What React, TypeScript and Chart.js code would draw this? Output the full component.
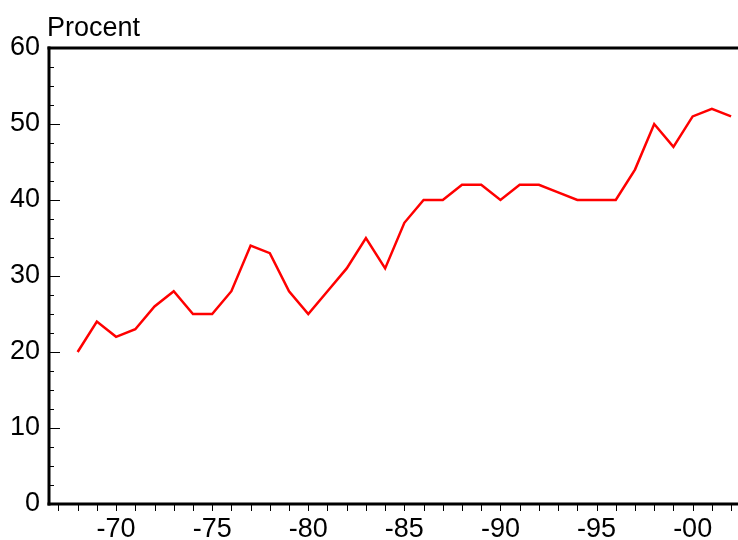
import React, { useEffect, useRef } from 'react';
import { Chart, registerables } from 'chart.js';

Chart.register(...registerables);

const years = [
  1968, 1969, 1970, 1971, 1972, 1973, 1974, 1975, 1976, 1977, 1978, 1979,
  1980, 1981, 1982, 1983, 1984, 1985, 1986, 1987, 1988, 1989, 1990, 1991,
  1992, 1993, 1994, 1995, 1996, 1997, 1998, 1999, 2000, 2001, 2002,
];
const values = [
  20, 24, 22, 23, 26, 28, 25, 25, 28, 34, 33, 28,
  25, 28, 31, 35, 31, 37, 40, 40, 42, 42, 40, 42,
  42, 41, 40, 40, 40, 44, 50, 47, 51, 52, 51,
];
const xTickYears = [1970, 1975, 1980, 1985, 1990, 1995, 2000];
const yTickValues = [0, 10, 20, 30, 40, 50, 60];
const yMinorStep = 2.5;
const unitLabel = 'Procent';

const FONT = '"Liberation Sans", Arial, Helvetica, sans-serif';

const yearLabel = (v: number) => '-' + String(v % 100).padStart(2, '0');

const axesPlugin = {
  id: 'axesPlugin',
  afterDatasetsDraw(chart: any) {
    const { ctx, chartArea, scales } = chart;
    const { left, right, top, bottom } = chartArea;
    const x = scales.x;
    const y = scales.y;
    ctx.save();
    ctx.strokeStyle = '#000';
    ctx.lineWidth = 1;
    const yMin = yTickValues[0];
    const yMax = yTickValues[yTickValues.length - 1];
    for (let v = yMin; v <= yMax; v += yMinorStep) {
      const py = Math.round(y.getPixelForValue(v)) + 0.5;
      const major = yTickValues.includes(v);
      ctx.beginPath();
      ctx.moveTo(left, py);
      ctx.lineTo(left + (major ? 11 : 5), py);
      ctx.stroke();
    }
    for (let yr = Math.ceil(x.min); yr <= x.max; yr++) {
      const px = Math.round(x.getPixelForValue(yr)) + 0.5;
      ctx.beginPath();
      ctx.moveTo(px, bottom);
      ctx.lineTo(px, bottom + 7);
      ctx.stroke();
    }
    ctx.lineWidth = 3;
    ctx.lineCap = 'butt';
    ctx.beginPath();
    ctx.moveTo(left - 1.5, top);
    ctx.lineTo(right, top);
    ctx.stroke();
    ctx.beginPath();
    ctx.moveTo(left - 1.5, bottom);
    ctx.lineTo(right, bottom);
    ctx.stroke();
    ctx.beginPath();
    ctx.moveTo(left, top - 1.5);
    ctx.lineTo(left, bottom + 1.5);
    ctx.stroke();

    ctx.fillStyle = '#000';
    ctx.font = '27px ' + FONT;
    ctx.textAlign = 'left';
    ctx.textBaseline = 'alphabetic';
    ctx.fillText(unitLabel, 47, 36);
    ctx.restore();
  },
};

export default function App() {
  const canvasRef = useRef<HTMLCanvasElement | null>(null);

  useEffect(() => {
    if (!canvasRef.current) return;
    const chart = new Chart(canvasRef.current, {
      type: 'line',
      data: {
        datasets: [
          {
            data: years.map((yr, i) => ({ x: yr, y: values[i] })),
            borderColor: '#ff0000',
            borderWidth: 2.5,
            pointRadius: 0,
            tension: 0,
            fill: false,
          },
        ],
      },
      options: {
        animation: false,
        responsive: false,
        devicePixelRatio: 1,
        layout: { padding: { top: 48, left: 0, right: 0, bottom: 0 } },
        plugins: {
          legend: { display: false },
          tooltip: { enabled: false },
          title: { display: false },
        },
        scales: {
          x: {
            type: 'linear',
            min: 1966.51,
            max: 2002.36,
            afterFit: (scale: any) => {
              scale.height = 36;
            },
            afterBuildTicks: (scale: any) => {
              scale.ticks = xTickYears.map((v) => ({ value: v }));
            },
            grid: { display: false, drawTicks: false },
            border: { display: false },
            ticks: {
              padding: 9,
              color: '#000',
              font: { family: FONT, size: 27 },
              maxRotation: 0,
              autoSkip: false,
              callback: (v: any) => yearLabel(Number(v)),
            },
          },
          y: {
            type: 'linear',
            min: 0,
            max: 60,
            afterFit: (scale: any) => {
              scale.width = 49;
            },
            afterBuildTicks: (scale: any) => {
              scale.ticks = yTickValues.map((v) => ({ value: v }));
            },
            grid: { display: false, drawTicks: false },
            border: { display: false },
            ticks: {
              padding: 9,
              color: '#000',
              font: { family: FONT, size: 27 },
              autoSkip: false,
            },
          },
        },
      },
      plugins: [axesPlugin],
    });
    return () => chart.destroy();
  }, []);

  return (
    <div style={{ position: 'fixed', left: 0, top: 0, width: 738, height: 540, background: '#fff' }}>
      <canvas ref={canvasRef} width={738} height={540} style={{ display: 'block' }} />
    </div>
  );
}
